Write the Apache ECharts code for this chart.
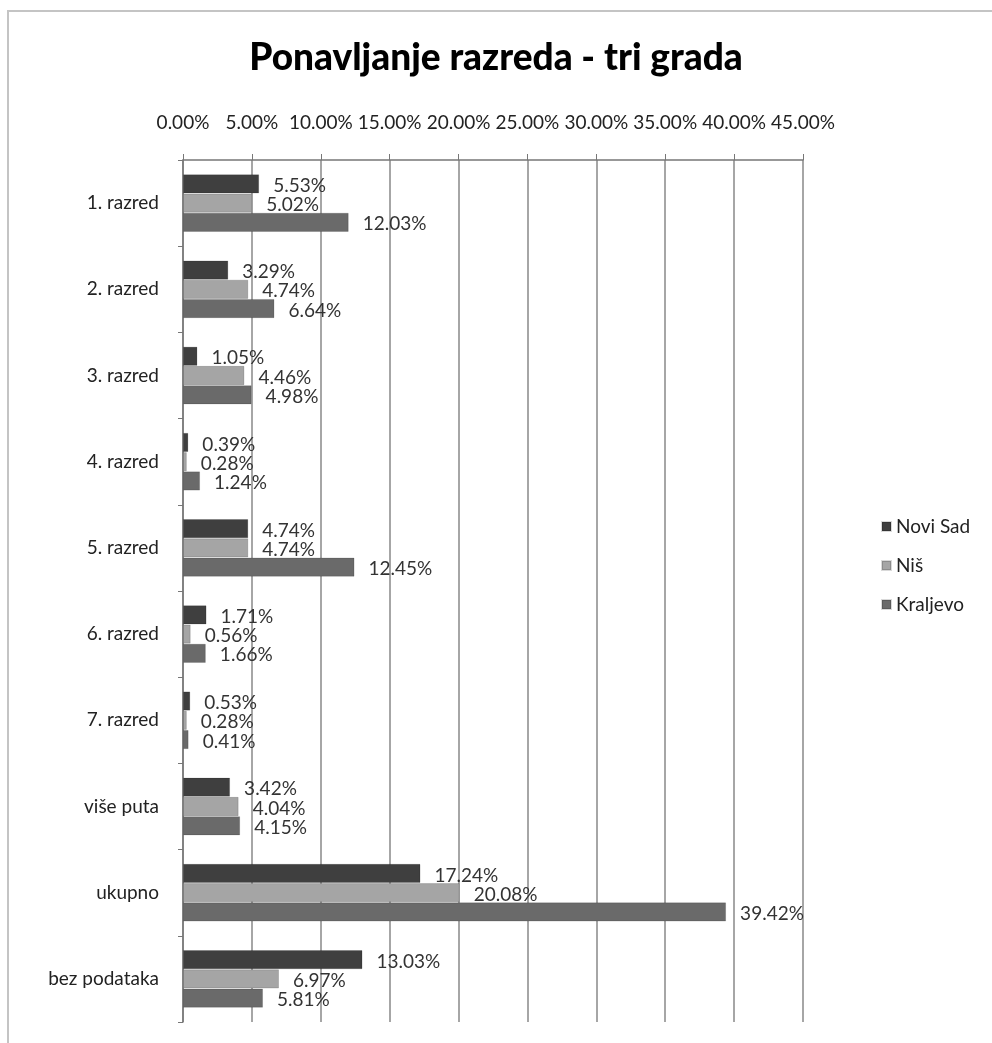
<!DOCTYPE html>
<html>
<head>
<meta charset="utf-8">
<script src="https://cdn.jsdelivr.net/npm/echarts@6/dist/echarts.min.js"></script>
<style>
    html, body { margin: 0; padding: 0; background: #fff; }
    #frame {
        position: absolute; left: 7px; top: 10px; width: 990px; height: 1040px;
        border-top: 2px solid #c4c4c4; border-left: 2px solid #c4c4c4;
    }
    #chart { width: 992px; height: 1043px; }
</style>
</head>
<body>
<div id="frame"></div>
<div id="chart"></div>
<script>
    // kategorije (odozgo nadole)
    var categories = ['1. razred', '2. razred', '3. razred', '4. razred', '5. razred',
                      '6. razred', '7. razred', 'više puta', 'ukupno', 'bez podataka'];
    var noviSad  = [5.53, 3.29, 1.05, 0.39, 4.74, 1.71, 0.53, 3.42, 17.24, 13.03];
    var nis      = [5.02, 4.74, 4.46, 0.28, 4.74, 0.56, 0.28, 4.04, 20.08, 6.97];
    var kraljevo = [12.03, 6.64, 4.98, 1.24, 12.45, 1.66, 0.41, 4.15, 39.42, 5.81];
    var seriesNames = ['Novi Sad', 'Niš', 'Kraljevo'];

    var font = 'Lato';
    var myChart = echarts.init(document.getElementById('chart'));

    function barSeries(name, data, color) {
        return {
            name: name,
            type: 'bar',
            barGap: 0,
            barCategoryGap: '33%',
            data: data,
            itemStyle: { color: color, borderColor: 'rgba(0,0,0,0.15)', borderWidth: 1 },
            label: {
                show: true,
                position: 'right',
                distance: 14,
                offset: [0, 2],
                fontFamily: font,
                fontSize: 19,
                color: '#333',
                formatter: function (p) { return p.value.toFixed(2) + '%'; }
            }
        };
    }

    var option = {
        animation: false,
        title: {
            text: 'Ponavljanje razreda - tri grada',
            left: 'center',
            top: 35,
            textStyle: { fontFamily: font, fontSize: 37, fontWeight: 900, color: '#000' }
        },
        legend: {
            data: seriesNames,
            orient: 'vertical',
            left: 876,
            top: 512,
            itemWidth: 9,
            itemHeight: 9,
            itemGap: 20,
            icon: 'rect',
            textStyle: { fontFamily: font, fontSize: 19, color: '#222' }
        },
        grid: { left: 183, right: 189, top: 160, bottom: 21 },
        xAxis: {
            type: 'value',
            position: 'top',
            min: 0,
            max: 45,
            interval: 5,
            axisLine: { show: true, lineStyle: { color: '#777', width: 1.5 } },
            axisTick: { show: true, length: 6, lineStyle: { color: '#777' } },
            splitLine: { show: true, lineStyle: { color: '#888', width: 1.5 } },
            axisLabel: {
                margin: 28,
                hideOverlap: false,
                fontFamily: font,
                fontSize: 19,
                color: '#222',
                formatter: function (v) { return v.toFixed(2) + '%'; }
            }
        },
        yAxis: {
            type: 'category',
            inverse: true,
            data: categories,
            axisLine: { show: true, lineStyle: { color: '#777', width: 1.5 } },
            axisTick: { show: true, length: 5, lineStyle: { color: '#777' } },
            axisLabel: { margin: 24, fontFamily: font, fontSize: 19, color: '#222' }
        },
        series: [
            barSeries(seriesNames[0], noviSad, '#3f3f3f'),
            barSeries(seriesNames[1], nis, '#a5a5a5'),
            barSeries(seriesNames[2], kraljevo, '#6a6a6a')
        ]
    };
    myChart.setOption(option);
</script>
</body>
</html>
